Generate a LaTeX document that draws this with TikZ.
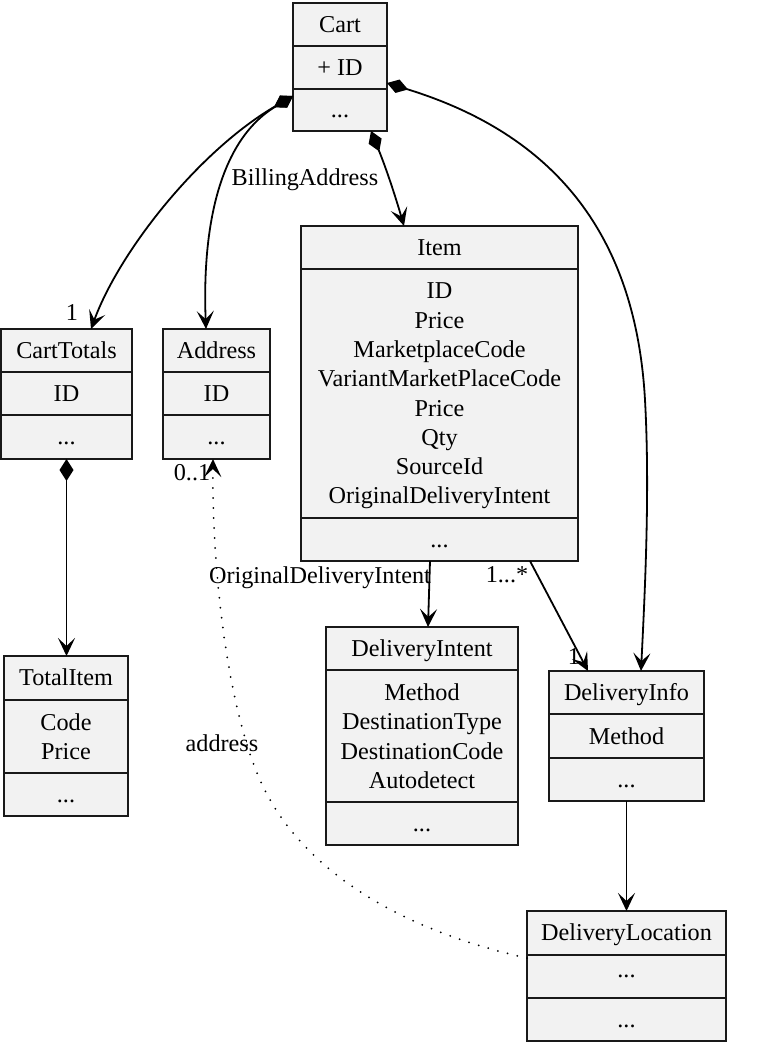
\documentclass[tikz,border=0pt]{standalone}
\usepackage{fontspec}
\setmainfont{Liberation Serif}
\usetikzlibrary{arrows.meta,calc}
\definecolor{recfill}{HTML}{F2F2F2}
\newcommand\umlrec[9]{%
  \pgfmathsetmacro\urW{#4-#2}\pgfmathsetmacro\urH{#5-#3}%
  \pgfmathsetmacro\urX{(#2+#4)/2}\pgfmathsetmacro\urY{(#3+#5)/2}%
  \pgfmathsetmacro\urA{(#3+#6)/2}\pgfmathsetmacro\urB{(#6+#7)/2}\pgfmathsetmacro\urC{(#7+#5)/2}%
  \node[recbox,minimum width=\urW pt,minimum height=\urH pt] (#1) at (\urX,\urY) {};
  \draw[recline] (#2,#6) -- (#4,#6) (#2,#7) -- (#4,#7);
  \node[rectext1] (#1-t) at (\urX,\urA) {#8};
  \node[rectext] (#1-a) at (\urX,\urB) {#9};
  \node[rectext1] (#1-m) at (\urX,\urC) {...};
}
\begin{document}
\begin{tikzpicture}[x=1pt,y=-1pt,
  every node/.style={font=\fontsize{24.2pt}{29.3pt}\selectfont, inner sep=0pt},
  recbox/.style={draw=black!90, fill=recfill, line width=2pt, inner sep=0pt, outer sep=0pt},
  recline/.style={draw=black!90, line width=2pt},
  rectext/.style={align=center, text depth=0pt},
  rectext1/.style={text height=17pt, text depth=2pt},
  conn/.style={line width=1.8pt, -{Stealth[length=18pt,width=17pt,inset=8pt]}},
  comp/.style={line width=1.8pt, {Diamond[length=22pt,width=14pt]}-{Stealth[length=18pt,width=17pt,inset=8pt]}},
  dotconn/.style={line width=2pt, dash pattern=on 0pt off 10pt, line cap=round, -{Stealth[length=18pt,width=17pt,inset=8pt]}},
  lbl/.style={}]
\useasboundingbox (0,0) rectangle (770,1058);
\umlrec{cart}{293}{3}{387}{131}{46}{89}{Cart}{+ ID}
\umlrec{carttotals}{1}{329}{132}{459}{372}{415}{CartTotals}{ID}
\umlrec{address}{163}{329}{270}{459}{372}{415}{Address}{ID}
\umlrec{item}{301}{226}{578}{561}{269}{518}{Item}{ID\\Price\\MarketplaceCode\\VariantMarketPlaceCode\\Price\\Qty\\SourceId\\OriginalDeliveryIntent}
\umlrec{totalitem}{4}{656}{128}{816}{700}{773}{TotalItem}{Code\\Price}
\umlrec{deliveryintent}{326}{627}{518}{845}{670}{802}{DeliveryIntent}{Method\\DestinationType\\DestinationCode\\Autodetect}
\umlrec{deliveryinfo}{549}{671}{704}{801}{714}{758}{DeliveryInfo}{Method}
\umlrec{deliverylocation}{527}{911}{726}{1041}{955}{998}{DeliveryLocation}{...}

% Cart -> CartTotals
\draw[comp] ([yshift=-29pt]cart.west) .. controls (200,150) and (120,250) .. ([xshift=24.5pt]carttotals.north);
\node[lbl] (l1) at (72,313) {1};
% Cart -> Address
\draw[comp] ([yshift=-29pt]cart.west) .. controls (220,140) and (202,225) .. ([xshift=-10.5pt]address.north);
\node[lbl] (lbill) at (305,180) {BillingAddress};
% Cart -> Item
\draw[comp] ([xshift=31pt]cart.south) .. controls (386,168) and (395,195) .. ([xshift=-35.5pt]item.north);
% Cart -> DeliveryInfo
\draw[comp] ([yshift=-16pt]cart.east) .. controls (540,130) and (635,220) .. (645,400) .. controls (650,490) and (645,590) .. ([xshift=14.5pt]deliveryinfo.north);
% Item -> DeliveryIntent
\draw[conn] ([xshift=-9.5pt]item.south) -- ([xshift=6pt]deliveryintent.north);
\node[lbl,anchor=east] (lodi) at (431,578) {OriginalDeliveryIntent};
% Item -> DeliveryInfo
\draw[conn] ([xshift=90.5pt]item.south) -- ([xshift=-38.5pt]deliveryinfo.north);
\node[lbl] (lmany) at (507,575) {1...*};
\node[lbl] (lone) at (574,657) {1};
% CartTotals -> TotalItem
\draw[comp] (carttotals.south) -- (carttotals.south |- totalitem.north);
% DeliveryInfo -> DeliveryLocation
\draw[conn] (deliveryinfo.south) -- (deliverylocation.north);
% DeliveryLocation -> Address (dotted)
\draw[dotconn] ([yshift=18pt]deliverylocation.west) .. controls (400,930) and (300,870) .. (260,780) .. controls (225,700) and (212,560) .. ([xshift=-3.5pt]address.south);
\node[lbl] (lzo) at (192,473) {0..1};
\node[lbl] (laddr) at (222,743) {address};
\end{tikzpicture}
\end{document}
